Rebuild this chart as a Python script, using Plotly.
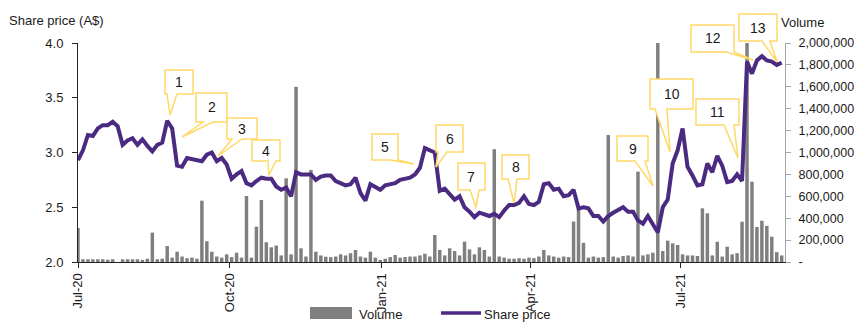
import pandas as pd
import plotly.graph_objects as go

# ---------------- data ----------------
dates = pd.date_range("2020-07-01", periods=143, freq="3D")

share_price = [
    2.93, 3.02, 3.16, 3.15, 3.22, 3.25, 3.25, 3.28, 3.24, 3.07,
    3.11, 3.13, 3.07, 3.12, 3.06, 3.01, 3.07, 3.09, 3.29, 3.22,
    2.88, 2.87, 2.95, 2.94, 2.93, 2.92, 2.98, 3.00, 2.92, 2.95,
    2.89, 2.76, 2.80, 2.83, 2.72, 2.70, 2.74, 2.77, 2.76, 2.76,
    2.69, 2.66, 2.68, 2.60, 2.82, 2.80, 2.80, 2.80, 2.75, 2.78,
    2.79, 2.79, 2.74, 2.72, 2.70, 2.71, 2.77, 2.63, 2.56, 2.71,
    2.68, 2.66, 2.70, 2.71, 2.72, 2.75, 2.76, 2.77, 2.80, 2.86,
    3.04, 3.02, 3.00, 2.65, 2.67, 2.62, 2.57, 2.60, 2.50, 2.46,
    2.41, 2.45, 2.43, 2.42, 2.44, 2.41, 2.47, 2.52, 2.52, 2.54,
    2.60, 2.53, 2.52, 2.55, 2.71, 2.72, 2.66, 2.67, 2.60, 2.61,
    2.66, 2.49, 2.50, 2.49, 2.42, 2.42, 2.37, 2.42, 2.45, 2.48,
    2.50, 2.46, 2.46, 2.38, 2.35, 2.42, 2.35, 2.27, 2.50, 2.57,
    2.90, 3.02, 3.22, 2.87, 2.79, 2.70, 2.71, 2.90, 2.82, 2.97,
    2.88, 2.73, 2.74, 2.80, 2.74, 3.83, 3.72, 3.84, 3.88, 3.84,
    3.83, 3.80, 3.82,
]

volume_k = [
    310, 25, 25, 25, 25, 25, 20, 25, 0, 25,
    25, 25, 25, 20, 30, 268, 25, 30, 146, 40,
    94, 50, 35, 40, 30, 560, 190, 94, 50, 40,
    70, 45, 85, 40, 603, 40, 322, 566, 180, 134,
    150, 60, 764, 70, 1600, 125, 50, 840, 94, 60,
    48, 45, 50, 70, 60, 80, 110, 50, 40, 94,
    40, 15, 30, 45, 64, 40, 45, 50, 50, 60,
    75, 50, 247, 110, 60, 125, 100, 60, 185, 115,
    70, 134, 110, 50, 1030, 50, 40, 30, 30, 35,
    30, 40, 35, 50, 110, 60, 50, 40, 50, 45,
    370, 480, 175, 40, 50, 40, 45, 1160, 50, 40,
    55, 60, 50, 825, 60, 70, 85, 2050, 100, 195,
    170, 155, 70, 60, 60, 55, 490, 445, 60, 185,
    50, 140, 70, 80, 368, 2050, 733, 320, 377, 330,
    231, 90, 60,
]
volume = [v * 1000 for v in volume_k]

x_tick_dates = ["2020-07-01", "2020-10-01", "2021-01-01", "2021-04-01", "2021-07-01"]
price_ticks = [2.0, 2.5, 3.0, 3.5, 4.0]
volume_ticks = [0, 200000, 400000, 600000, 800000, 1000000,
                1200000, 1400000, 1600000, 1800000, 2000000]
volume_ticktext = ["-"] + [f"{v:,}" for v in volume_ticks[1:]]

# callouts: label, box (x0,y0,x1,y1) px, tail base (b1,b2) on bottom edge, tip (px)
callouts = [
    ("1", 165, 70, 193, 94, 167, 177, 170, 115),
    ("2", 196, 93, 227, 122, 203, 213, 182, 137),
    ("3", 227, 118, 257, 139, 232, 242, 218, 156),
    ("4", 252, 140, 280, 161, 268, 276, 269, 175),
    ("5", 372, 134, 398, 160, 390, 398, 414, 164),
    ("6", 436, 125, 463, 152, 438, 447, 436, 167),
    ("7", 458, 163, 485, 190, 470, 479, 476, 207),
    ("8", 502, 155, 529, 179, 508, 517, 514, 203),
    ("9", 617, 136, 648, 161, 635, 645, 653, 186),
    ("10", 650, 79, 693, 109, 655, 667, 670, 152),
    ("11", 696, 99, 739, 125, 724, 734, 738, 158),
    ("12", 691, 25, 734, 52, 726, 734, 753, 60),
    ("13", 739, 14, 777, 41, 762, 770, 777, 62),
]

# ---------------- layout geometry ----------------
W, H = 854, 323
L, R, T, B = 78, 69, 43, 61
PW = W - L - R
PH = H - T - B
BOTTOM = H - B

def px(x):
    return (x - L) / PW

def py(y):
    return (BOTTOM - y) / PH

def pt(x, y):
    return f"{px(x):.5f},{py(y):.5f}"

FONT = "Liberation Sans, Arial, sans-serif"
TXT = "#1a1a1a"
PURPLE = "#4B2A82"
GREY = "#7F7F7F"
YELLOW = "#FFD966"

fig = go.Figure()
fig.add_trace(go.Bar(x=dates, y=volume, name="Volume", marker_color=GREY,
                     marker_line_width=0, yaxis="y", showlegend=False))
fig.add_trace(go.Scatter(x=dates, y=share_price, name="Share price", mode="lines",
                         line=dict(color=PURPLE, width=4), yaxis="y2",
                         showlegend=False))

shapes = []
annotations = []
for lab, x0, y0, x1, y1, b1, b2, tx, ty in callouts:
    path = ("M" + pt(x0, y0) + " L" + pt(x1, y0) + " L" + pt(x1, y1) +
            " L" + pt(b2, y1) + " L" + pt(tx, ty) + " L" + pt(b1, y1) +
            " L" + pt(x0, y1) + " Z")
    shapes.append(dict(type="path", path=path, xref="paper", yref="paper",
                       fillcolor="white", line=dict(color=YELLOW, width=1.5),
                       layer="above"))
    annotations.append(dict(text=lab, x=px((x0 + x1) / 2), y=py((y0 + y1) / 2),
                            xref="paper", yref="paper", showarrow=False,
                            xanchor="center", yanchor="middle",
                            font=dict(family=FONT, size=14, color=TXT)))

# legend drawn by hand
shapes.append(dict(type="rect", xref="paper", yref="paper",
                   x0=px(310), x1=px(352), y0=py(319), y1=py(307),
                   fillcolor=GREY, line=dict(width=0)))
shapes.append(dict(type="line", xref="paper", yref="paper",
                   x0=px(441), x1=px(481), y0=py(313), y1=py(313),
                   line=dict(color=PURPLE, width=3.5)))
annotations.append(dict(text="Volume", x=px(357), y=py(314), xref="paper", yref="paper",
                        showarrow=False, xanchor="left", yanchor="middle",
                        font=dict(family=FONT, size=13, color=TXT)))
annotations.append(dict(text="Share price", x=px(482), y=py(314), xref="paper", yref="paper",
                        showarrow=False, xanchor="left", yanchor="middle",
                        font=dict(family=FONT, size=13, color=TXT)))
annotations.append(dict(text="Share price (A$)", x=px(7), y=py(21), xref="paper", yref="paper",
                        showarrow=False, xanchor="left", yanchor="middle",
                        font=dict(family=FONT, size=13, color=TXT)))
annotations.append(dict(text="Volume", x=px(779), y=py(22), xref="paper", yref="paper",
                        showarrow=False, xanchor="left", yanchor="middle",
                        font=dict(family=FONT, size=13, color=TXT)))

fig.update_layout(
    width=W, height=H,
    margin=dict(l=L, r=R, t=T, b=B, pad=0, autoexpand=False),
    paper_bgcolor="white", plot_bgcolor="white",
    font=dict(family=FONT, size=13, color=TXT),
    bargap=0.3,
    showlegend=False,
    xaxis=dict(type="date", range=["2020-07-01", "2021-09-02"],
               tickvals=x_tick_dates, tickformat="%b-%y", tickangle=-90,
               ticks="outside", ticklen=5, tickcolor="#222222",
               showline=True, linecolor="#222222", linewidth=1,
               showgrid=False, zeroline=False, automargin=False),
    yaxis=dict(side="right", range=[0, 2000000], tickvals=volume_ticks,
               ticktext=volume_ticktext, ticks="outside", ticklen=5,
               tickcolor="#A6A6A6", showline=True, linecolor="#A6A6A6",
               linewidth=1, showgrid=False, zeroline=False,
               tickfont=dict(family=FONT, size=12.5, color=TXT),
               ticklabelstandoff=5, automargin=False),
    yaxis2=dict(side="left", overlaying="y", range=[2, 4], tickvals=price_ticks,
                tickformat=".1f", ticks="outside", ticklen=5, tickcolor="#222222",
                showline=True, linecolor="#222222", linewidth=1,
                showgrid=False, zeroline=False, ticklabelstandoff=6,
                automargin=False),
    shapes=shapes,
    annotations=annotations,
)

fig.write_html("out.html")
